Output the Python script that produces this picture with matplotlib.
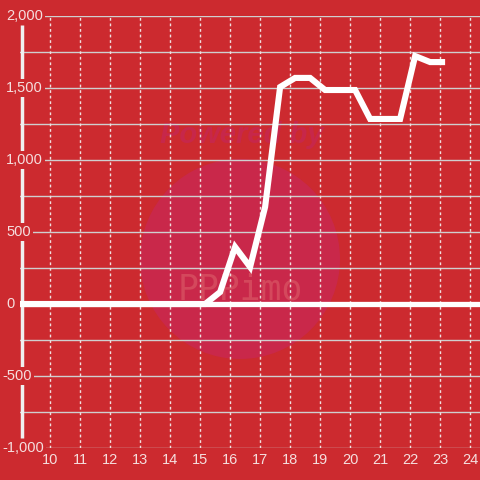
import matplotlib
matplotlib.use("Agg")
import matplotlib.pyplot as plt
import matplotlib.transforms as mtrans
from matplotlib.patches import Circle

# Data
x_vals = [9.0, 15.17, 15.67, 16.17, 16.67, 17.17, 17.67, 18.17, 18.67, 19.17,
          19.67, 20.17, 20.67, 21.17, 21.67, 22.17, 22.67, 23.17]
y_vals = [0, 0, 83, 396, 257, 674, 1507, 1570, 1570, 1486,
          1486, 1486, 1285, 1285, 1285, 1722, 1680, 1680]
x_ticks = list(range(10, 25))
y_ticks = [-1000, -500, 0, 500, 1000, 1500, 2000]
y_tick_labels = ["-1,000", "-500", "0", "500", "1,000", "1,500", "2,000"]

BG = "#cc2a2f"
TXT = "#f5dede"

plt.rcParams['font.family'] = ['Liberation Sans', 'DejaVu Sans']

fig = plt.figure(figsize=(4.8, 4.8), dpi=100, facecolor=BG)
W = H = 480.0
ax = fig.add_axes([20 / W, 1 - 448 / H, 460 / W, 432 / H])
ax.set_facecolor(BG)
ax.set_xlim(9, 24.333)
ax.set_ylim(-1000, 2000)
for s in ax.spines.values():
    s.set_visible(False)
ax.set_xticks([])
ax.set_yticks([])

# watermark (behind grid)
circ = Circle((240 / W, 1 - 259 / H), 100 / W, transform=fig.transFigure,
              facecolor="#c9284a", edgecolor="none", zorder=0.2, clip_on=False)
ax.add_patch(circ)
ax.text(242 / W, 1 - 135 / H, "Powered by", transform=fig.transFigure,
        ha="center", va="center", fontsize=21, color="#c7274a",
        fontweight="bold", style="italic", zorder=0.3)
ax.text(240 / W, 1 - 290 / H, "PPPimo", transform=fig.transFigure,
        ha="center", va="center", fontsize=25, color="#d4485c",
        family="DejaVu Sans Mono", zorder=0.3)

# horizontal grid lines
for v in range(-1000, 2001, 250):
    ax.axhline(v, color="#cfcfcf", lw=1.0, zorder=1)
# vertical dotted grid lines
for v in x_ticks:
    ax.axvline(v, color="#f0e0e0", lw=1.0, ls=(0, (2, 2)), zorder=1)

# zero line
ax.axhline(0, color="white", lw=3.8, zorder=2)
# left spine
ax.plot([9.05, 9.05], [1940, -930], color="#f0f0f0", lw=2.5, zorder=2,
        solid_capstyle="butt", clip_on=False)

# data line
ax.plot(x_vals, y_vals, color="white", lw=4.4, zorder=3,
        solid_joinstyle="miter", solid_capstyle="butt")

# y tick labels (left aligned near the figure edge)
for v, lab in zip(y_ticks, y_tick_labels):
    px = 2 if lab.startswith("-") else 6
    ax.text((px - 20) / 460.0, v, lab, transform=ax.get_yaxis_transform(),
            ha="left", va="center", fontsize=10.5, color=TXT, zorder=5,
            bbox=dict(boxstyle="square,pad=0.15", facecolor=BG, edgecolor="none"))

# x tick labels
xoff = ax.transData + mtrans.ScaledTranslation(0, -5 / 100, fig.dpi_scale_trans)
for v in x_ticks:
    ax.text(v, -1000, str(v), ha="center", va="top", fontsize=10.5, color=TXT,
            transform=xoff, zorder=5, clip_on=False)

fig.savefig("out.png", dpi=100, facecolor=BG)
